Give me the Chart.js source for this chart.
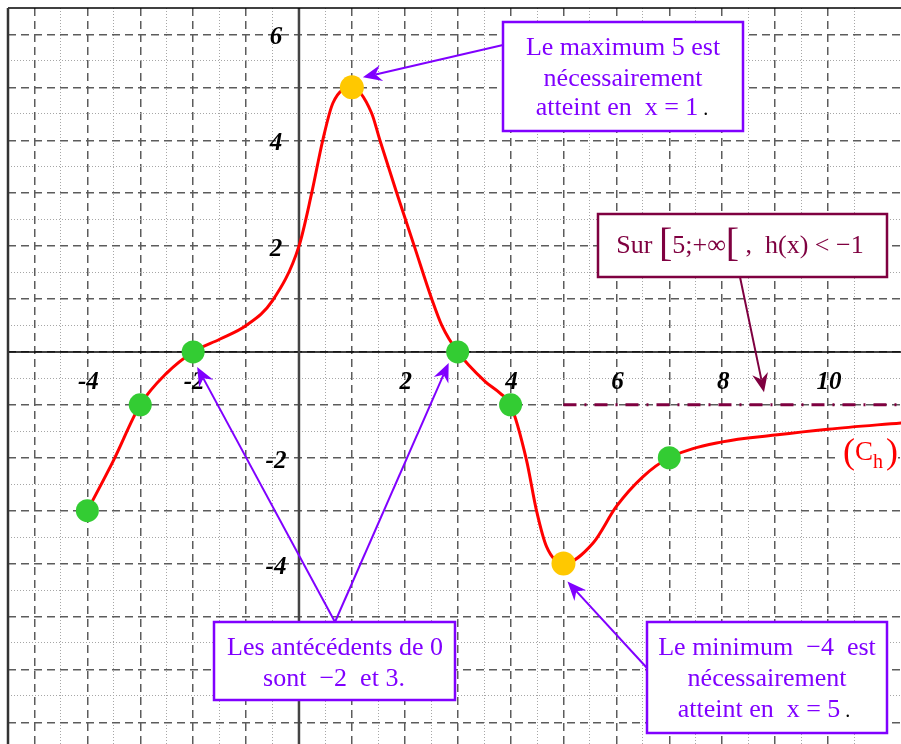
<!DOCTYPE html>
<html lang="fr">
<head>
<meta charset="UTF-8">
<title>Courbe (Ch)</title>
<script src="https://cdn.jsdelivr.net/npm/chart.js@4"></script>
<style>
  html, body { margin: 0; padding: 0; background: #fff; }
  #wrap { width: 901px; height: 744px; }
</style>
</head>
<body>
<div id="wrap"><canvas id="courbe" width="901" height="744"></canvas></div>
<script>
// points (Ch)
var courbeX = [-4, -3.5, -3, -2.5, -2, -1.5, -1, -0.5, 0, 0.24, 0.45, 0.64, 1, 1.37, 1.53, 1.85, 2.18, 2.51, 2.7, 3, 3.52, 3.8, 4, 4.3, 4.49, 4.68, 5, 5.56, 6, 6.5, 7, 8, 9, 10, 11.4];
var courbeY = [-3, -2.04, -1, -0.4, 0, 0.24, 0.5, 0.97, 2, 3, 4, 4.7, 5, 4.52, 4, 3, 2, 1, 0.5, 0, -0.56, -0.78, -1, -2.04, -3, -3.68, -4, -3.61, -2.92, -2.36, -2, -1.7, -1.57, -1.46, -1.34];

// points marques en vert
var vertsX = [-4, -3, -2, 3, 4, 7];
var vertsY = [-3, -1, 0, 0, -1, -2];

// maximum et minimum (en jaune)
var extremaX = [1, 5];
var extremaY = [5, -4];

// droite y = -1 sur [5;+inf[
var asymX = [5, 11.4];
var asymY = [-1, -1];

// graduations
var ticksX = [-4, -2, 2, 4, 6, 8, 10];
var ticksY = [6, 4, 2, -2, -4];

var xMin = -5.5, xMax = 11.38;
var yMin = -7.41, yMax = 6.5;

var violet = '#8000ff';
var bordeaux = '#7f0040';
var serif = '"Liberation Serif", "DejaVu Serif", serif';

function pts(xs, ys) {
    return xs.map(function (x, i) { return { x: x, y: ys[i] }; });
}

function estMajeur(v) {
    return Math.abs(v - Math.round(v)) < 1e-6;
}
function estGrille(c, vmin, vmax) {
    if (!c.tick) return false;
    var v = c.tick.value;
    var d = v * 2;
    if (Math.abs(d - Math.round(d)) > 1e-6) return false;
    if (Math.abs(v - vmin) < 1e-6 || Math.abs(v - vmax) < 1e-6) return false;
    return true;
}

function axe(vmin, vmax) {
    return {
        type: 'linear',
        min: vmin,
        max: vmax,
        ticks: { display: false, stepSize: 0.5 },
        grid: {
            drawTicks: false,
            color: function (c) {
                if (!estGrille(c, vmin, vmax)) return 'rgba(0,0,0,0)';
                return estMajeur(c.tick.value) ? '#5c5c5c' : '#a6a6a6';
            },
            lineWidth: function (c) {
                return c.tick && estMajeur(c.tick.value) ? 1.5 : 1;
            }
        },
        border: {
            display: false,
            dash: function (c) {
                return c.tick && estMajeur(c.tick.value) ? [8, 5] : [1, 2];
            }
        }
    };
}

function fleche(ctx, x1, y1, x2, y2, color) {
    var ang = Math.atan2(y2 - y1, x2 - x1);
    var L = 19, W = 8, N = 6;
    ctx.save();
    ctx.strokeStyle = color;
    ctx.fillStyle = color;
    ctx.lineWidth = 2;
    ctx.beginPath();
    ctx.moveTo(x1, y1);
    ctx.lineTo(x2 - Math.cos(ang) * (L - N), y2 - Math.sin(ang) * (L - N));
    ctx.stroke();
    ctx.translate(x2, y2);
    ctx.rotate(ang);
    ctx.beginPath();
    ctx.moveTo(0, 0);
    ctx.lineTo(-L, -W);
    ctx.lineTo(-L + N, 0);
    ctx.lineTo(-L, W);
    ctx.closePath();
    ctx.fill();
    ctx.restore();
}

// une ligne de texte faite de morceaux, centree sur cx
function ligne(ctx, runs, cx, base, color) {
    ctx.save();
    ctx.textAlign = 'left';
    ctx.textBaseline = 'alphabetic';
    var total = 0;
    runs.forEach(function (r) {
        ctx.font = (r.size || 26) + 'px ' + serif;
        r.w = ctx.measureText(r.t).width;
        total += r.w;
    });
    var x = cx - total / 2;
    runs.forEach(function (r) {
        ctx.font = (r.size || 26) + 'px ' + serif;
        ctx.fillStyle = r.c || color;
        ctx.fillText(r.t, x, base + (r.dy || 0));
        x += r.w;
    });
    ctx.restore();
}

function boite(ctx, x, y, w, h, color) {
    ctx.save();
    ctx.fillStyle = '#fff';
    ctx.fillRect(x, y, w, h);
    ctx.strokeStyle = color;
    ctx.lineWidth = 2.5;
    ctx.strokeRect(x, y, w, h);
    ctx.restore();
}

var fondPlugin = {
    id: 'fond',
    beforeDatasetsDraw: function (chart) {
        var ctx = chart.ctx, a = chart.chartArea;
        var sx = chart.scales.x, sy = chart.scales.y;
        var x0 = sx.getPixelForValue(0), y0 = sy.getPixelForValue(0);
        ctx.save();
        // axes
        ctx.strokeStyle = '#000';
        ctx.lineWidth = 1.5;
        ctx.beginPath();
        ctx.moveTo(a.left, y0);
        ctx.lineTo(a.right, y0);
        ctx.stroke();
        ctx.strokeStyle = '#444';
        ctx.lineWidth = 2.5;
        ctx.beginPath();
        ctx.moveTo(x0, a.top);
        ctx.lineTo(x0, a.bottom);
        ctx.stroke();
        // cadre
        ctx.strokeStyle = '#000';
        ctx.lineWidth = 1.5;
        ctx.beginPath();
        ctx.moveTo(a.left, a.top);
        ctx.lineTo(a.right, a.top);
        ctx.stroke();
        ctx.strokeStyle = '#333';
        ctx.lineWidth = 2.5;
        ctx.beginPath();
        ctx.moveTo(a.left, a.top);
        ctx.lineTo(a.left, a.bottom);
        ctx.stroke();
        // graduations
        ctx.fillStyle = '#000';
        ctx.font = 'italic bold 25px ' + serif;
        ctx.textAlign = 'center';
        ctx.textBaseline = 'middle';
        ticksX.forEach(function (v) {
            ctx.fillText(String(v), sx.getPixelForValue(v) + 1, y0 + 31);
        });
        ticksY.forEach(function (v) {
            ctx.fillText(String(v), x0 - 23, sy.getPixelForValue(v) + 3.5);
        });
        ctx.restore();
    }
};

var notesPlugin = {
    id: 'notes',
    afterDatasetsDraw: function (chart) {
        var ctx = chart.ctx;
        var sx = chart.scales.x, sy = chart.scales.y;
        function px(x) { return sx.getPixelForValue(x); }
        function py(y) { return sy.getPixelForValue(y); }

        // maximum
        fleche(ctx, 503, 45, px(1) + 11, py(5) - 10, violet);
        boite(ctx, 503, 22, 240, 109, violet);
        ligne(ctx, [{ t: 'Le maximum 5 est' }], 623, 55, violet);
        ligne(ctx, [{ t: 'nécessairement' }], 623, 86, violet);
        ligne(ctx, [{ t: 'atteint en  x = 1' }, { t: ' .', c: '#000', size: 20 }], 622, 115, violet);

        // h(x) < -1
        fleche(ctx, 740, 277, px(8.79), py(-0.76), bordeaux);
        boite(ctx, 598, 214, 289, 63, bordeaux);
        ligne(ctx, [
            { t: 'Sur ' },
            { t: '[', size: 40, dy: 3 },
            { t: '5;+∞' },
            { t: '[', size: 40, dy: 3 },
            { t: ' ,  h(x) < −1' }
        ], 740, 253, bordeaux);

        // antecedents de 0
        fleche(ctx, 335, 622, px(-2) + 4, py(0) + 15, violet);
        fleche(ctx, 335, 622, px(3) - 9, py(0) + 11, violet);
        boite(ctx, 214, 622, 241, 78, violet);
        ligne(ctx, [{ t: 'Les antécédents de 0' }], 335, 655, violet);
        ligne(ctx, [{ t: 'sont  −2  et 3.' }], 334, 686, violet);

        // minimum
        fleche(ctx, 647, 668, px(5) + 4, py(-4) + 18, violet);
        boite(ctx, 647, 622, 240, 111, violet);
        ligne(ctx, [{ t: 'Le minimum  −4  est' }], 767, 655, violet);
        ligne(ctx, [{ t: 'nécessairement' }], 767, 686, violet);
        ligne(ctx, [{ t: 'atteint en  x = 5' }, { t: ' .', c: '#000', size: 20 }], 764, 717, violet);

        // nom de la courbe, sur fond blanc
        ctx.save();
        ctx.fillStyle = '#fff';
        ctx.fillRect(840, 437, 58, 35);
        ctx.fillStyle = '#ff0000';
        ctx.textAlign = 'left';
        var x = 843;
        ctx.font = '36px ' + serif;
        ctx.fillText('(', x, 463);
        x += ctx.measureText('(').width;
        ctx.font = '27px ' + serif;
        ctx.fillText('C', x, 460);
        x += ctx.measureText('C').width;
        ctx.font = '20px ' + serif;
        ctx.fillText('h', x, 468);
        x += ctx.measureText('h').width + 3;
        ctx.font = '36px ' + serif;
        ctx.fillText(')', x, 463);
        ctx.restore();
    }
};

var ctxCourbe = document.getElementById('courbe').getContext('2d');
var chart = new Chart(ctxCourbe, {
    type: 'scatter',
    data: {
        datasets: [{
            label: 'extrema',
            data: pts(extremaX, extremaY),
            pointRadius: 12,
            pointBackgroundColor: '#ffc800',
            pointBorderWidth: 0,
            order: 0
        }, {
            label: 'points',
            data: pts(vertsX, vertsY),
            pointRadius: 11.5,
            pointBackgroundColor: '#33cc33',
            pointBorderWidth: 0,
            order: 1
        }, {
            label: '(Ch)',
            data: pts(courbeX, courbeY),
            showLine: true,
            borderColor: '#ff0000',
            borderWidth: 3,
            pointRadius: 0,
            cubicInterpolationMode: 'monotone',
            order: 2
        }, {
            label: 'y = -1',
            data: pts(asymX, asymY),
            showLine: true,
            borderColor: bordeaux,
            borderWidth: 3,
            borderDash: [13, 8, 2, 8],
            pointRadius: 0,
            order: 3
        }]
    },
    options: {
        responsive: false,
        animation: false,
        events: [],
        layout: { autoPadding: false, padding: { left: 8, top: 8, right: 0, bottom: 0 } },
        plugins: { legend: { display: false }, tooltip: { enabled: false } },
        scales: {
            x: axe(xMin, xMax),
            y: axe(yMin, yMax)
        }
    },
    plugins: [fondPlugin, notesPlugin]
});
</script>
</body>
</html>
